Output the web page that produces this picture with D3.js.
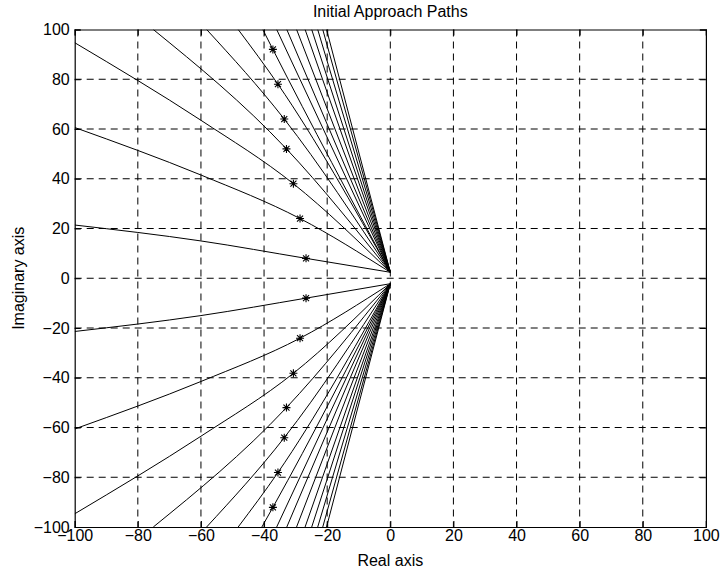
<!DOCTYPE html>
<html>
<head>
<meta charset="utf-8">
<script src="https://cdn.jsdelivr.net/npm/d3@7"></script>
<style>
  body { margin: 0; background: #fff; }
  svg { display: block; font-family: "Liberation Sans", Arial, Helvetica, sans-serif; }
</style>
</head>
<body>
<div id="chart"></div>
<script>
// Initial approach paths — curves converging on the origin, '*' marks on the outer seven of each half.

const xTicks = [-100, -80, -60, -40, -20, 0, 20, 40, 60, 80, 100];
const yTicks = [-100, -80, -60, -40, -20, 0, 20, 40, 60, 80, 100];

// upper half paths, each [x, y] from the plot edge in toward the origin
const pathsUpper = [
  [[-100, 21.4], [-60, 15.0], [-26.7, 8.0], [0, 2.4]],
  [[-100, 60.6], [-60, 41.5], [-28.6, 24.0], [0, 2.4]],
  [[-100, 94.7], [-60, 63.5], [-30.7, 38.0], [0, 2.4]],
  [[-75.1, 100], [-32.9, 52.0], [0, 2.4]],
  [[-58.2, 100], [-33.6, 64.0], [0, 2.4]],
  [[-48.2, 100], [-35.6, 78.0], [0, 2.4]],
  [[-40.4, 100], [-37.2, 92.0], [0, 2.4]],
  [[-36.0, 100], [0, 2.4]],
  [[-32.8, 100], [0, 2.4]],
  [[-29.7, 100], [0, 2.4]],
  [[-27.0, 100], [0, 2.4]],
  [[-24.9, 100], [0, 2.4]],
  [[-23.0, 100], [0, 2.4]],
  [[-21.4, 100], [0, 2.4]],
  [[-20.2, 100], [0, 2.4]],
];

// lower half paths
const pathsLower = [
  [[-100, -21.4], [-60, -15.0], [-26.7, -8.0], [0, -2.2]],
  [[-100, -60.6], [-60, -41.5], [-28.6, -24.1], [0, -2.2]],
  [[-100, -94.7], [-60, -63.5], [-30.7, -38.2], [0, -2.2]],
  [[-75.1, -100], [-32.9, -52.0], [0, -2.2]],
  [[-58.2, -100], [-33.6, -64.1], [0, -2.2]],
  [[-48.2, -100], [-35.6, -78.1], [0, -2.2]],
  [[-40.7, -100], [-37.2, -92.1], [0, -2.2]],
  [[-36.0, -100], [0, -2.2]],
  [[-32.8, -100], [0, -2.2]],
  [[-29.7, -100], [0, -2.2]],
  [[-27.0, -100], [0, -2.2]],
  [[-24.9, -100], [0, -2.2]],
  [[-23.0, -100], [0, -2.2]],
  [[-21.4, -100], [0, -2.2]],
  [[-20.2, -100], [0, -2.2]],
];

const starsUpper = [[-26.7, 8.0], [-28.6, 24.0], [-30.7, 38.0], [-32.9, 52.0], [-33.6, 64.0], [-35.6, 78.0], [-37.2, 92.0]];
const starsLower = [[-26.7, -8.0], [-28.6, -24.1], [-30.7, -38.2], [-32.9, -52.0], [-33.6, -64.1], [-35.6, -78.1], [-37.2, -92.1]];

const W = 720, H = 575;
const margin = { top: 29.5, right: 14.1, bottom: 48, left: 74.7 };
const FS = 16;

const svg = d3.select("#chart").append("svg").attr("width", W).attr("height", H);

const x = d3.scaleLinear().domain([-100, 100]).range([margin.left, W - margin.right]);
const y = d3.scaleLinear().domain([-100, 100]).range([H - margin.bottom, margin.top]);

svg.append("clipPath").attr("id", "plot-clip")
  .append("rect")
  .attr("x", x(-100)).attr("y", y(100))
  .attr("width", x(100) - x(-100)).attr("height", y(-100) - y(100));

// grid
const grid = svg.append("g").attr("stroke", "#000").attr("stroke-width", 1).attr("stroke-dasharray", "7,5");
grid.selectAll("line.gx").data(xTicks.slice(1, -1)).join("line").attr("class", "gx")
  .attr("x1", d => x(d)).attr("x2", d => x(d)).attr("y1", y(100)).attr("y2", y(-100));
grid.selectAll("line.gy").data(yTicks.slice(1, -1)).join("line").attr("class", "gy")
  .attr("x1", x(-100)).attr("x2", x(100)).attr("y1", d => y(d)).attr("y2", d => y(d));

// paths
const line = d3.line().x(d => x(d[0])).y(d => y(d[1])).curve(d3.curveMonotoneX);
const gPaths = svg.append("g").attr("clip-path", "url(#plot-clip)");
gPaths.selectAll("path").data(pathsUpper.concat(pathsLower)).join("path")
  .attr("d", d => line(d.slice().sort((a, b) => a[0] - b[0])))
  .attr("fill", "none").attr("stroke", "#000").attr("stroke-width", 1);

// '*' markers
const r = 4, rd = 3;
const starPath = `M${-r},0H${r}M0,${-r}V${r}M${-rd},${-rd}L${rd},${rd}M${-rd},${rd}L${rd},${-rd}`;
svg.append("g").selectAll("path").data(starsUpper.concat(starsLower)).join("path")
  .attr("transform", d => `translate(${x(d[0])},${y(d[1])})`)
  .attr("d", starPath)
  .attr("fill", "none").attr("stroke", "#000").attr("stroke-width", 1.1);

// axes box with inward ticks on all four sides
const tl = 6;
const fmt = d => d < 0 ? "\u2212" + Math.abs(d) : d;
const axisG = svg.append("g");
axisG.append("g").attr("transform", `translate(0,${y(-100)})`)
  .call(d3.axisBottom(x).tickValues(xTicks).tickSize(-tl).tickPadding(3).tickFormat(fmt));
axisG.append("g").attr("transform", `translate(0,${y(100)})`)
  .call(d3.axisTop(x).tickValues(xTicks).tickSize(-tl).tickFormat(""));
axisG.append("g").attr("transform", `translate(${x(-100)},0)`)
  .call(d3.axisLeft(y).tickValues(yTicks).tickSize(-tl).tickPadding(5).tickFormat(fmt));
axisG.append("g").attr("transform", `translate(${x(100)},0)`)
  .call(d3.axisRight(y).tickValues(yTicks).tickSize(-tl).tickFormat(""));
axisG.selectAll("g").attr("font-size", FS).attr("font-family", "Liberation Sans, Arial, sans-serif");
axisG.selectAll(".domain").attr("stroke", "#000").attr("stroke-width", 1.2);
axisG.selectAll(".tick line").attr("stroke", "#000");
axisG.selectAll(".tick text").attr("fill", "#000");

// titles
svg.append("text").attr("x", x(0)).attr("y", 17).attr("text-anchor", "middle")
  .attr("font-size", FS).text("Initial Approach Paths");
svg.append("text").attr("x", x(0)).attr("y", 566).attr("text-anchor", "middle")
  .attr("font-size", FS).text("Real axis");
svg.append("text").attr("transform", `translate(24,${y(0)}) rotate(-90)`).attr("text-anchor", "middle")
  .attr("font-size", FS).text("Imaginary axis");
</script>
</body>
</html>
